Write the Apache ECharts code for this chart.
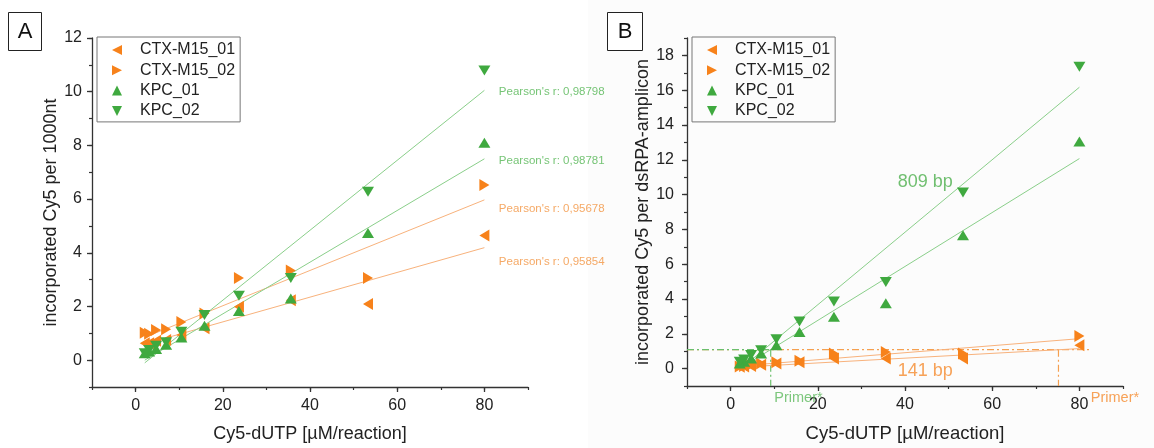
<!DOCTYPE html>
<html><head><meta charset="utf-8">
<script src="https://cdn.jsdelivr.net/npm/echarts@6.0.0/dist/echarts.min.js"></script>
<style>html,body{margin:0;padding:0;background:#fff}#c{width:1154px;height:448px}</style>
</head><body><div id="c"></div>
<script>
// ---- data ----
var doses = [80, 53.3, 35.6, 23.7, 15.8, 10.5, 7.0, 4.7, 3.1, 2.1];
var seriesNames = ['CTX-M15_01', 'CTX-M15_02', 'KPC_01', 'KPC_02'];
// Panel A: incorporated Cy5 per 1000nt
var ctx01A = [4.64, 2.09, 2.23, 1.99, 1.19, 0.94, 0.75, 0.72, 0.63, 0.63];
var ctx02A = [6.52, 3.06, 3.34, 3.06, 1.74, 1.42, 1.15, 1.12, 0.98, 1.02];
var kpc01A = [8.10, 4.74, 2.30, 1.83, 1.28, 0.84, 0.57, 0.42, 0.32, 0.26];
var kpc02A = [10.79, 6.27, 3.06, 2.40, 1.68, 1.06, 0.67, 0.54, 0.38, 0.26];
// Panel B: incorporated Cy5 per dsRPA-amplicon
var ctx01B = [1.34, 0.58, 0.58, 0.58, 0.36, 0.30, 0.22, 0.15, 0.12, 0.10];
var ctx02B = [1.87, 0.87, 0.96, 0.87, 0.45, 0.36, 0.30, 0.20, 0.15, 0.12];
var kpc01B = [13.05, 7.67, 3.76, 2.98, 2.10, 1.34, 0.87, 0.58, 0.40, 0.30];
var kpc02B = [17.35, 10.12, 4.97, 3.85, 2.70, 1.68, 1.06, 0.78, 0.53, 0.40];
// linear fit lines (end points)
var fitCtx01A = [[2.1, 0.60], [80, 4.19]];
var fitCtx02A = [[2.1, 0.85], [80, 5.97]];
var fitKpc01A = [[2.1, 0.00], [80, 7.50]];
var fitKpc02A = [[2.1, -0.10], [80, 10.05]];
var fitCtx01B = [[2.1, 0.08], [80, 1.15]];
var fitCtx02B = [[2.1, 0.15], [80, 1.72]];
var fitKpc01B = [[3.1, 0.15], [80, 12.07]];
var fitKpc02B = [[3.1, 0.15], [80, 16.17]];
// primer threshold guides in panel B
var primerLevel = 1.09;
var primerGreenX = 9.2;
var primerOrangeX = 75.2;
var pearsonTexts = ["Pearson's r: 0,98798", "Pearson's r: 0,98781", "Pearson's r: 0,95678", "Pearson's r: 0,95854"];
// tick labels
var xTicks = [0, 20, 40, 60, 80];
var yTicksA = [0, 2, 4, 6, 8, 10, 12];
var yTicksB = [0, 2, 4, 6, 8, 10, 12, 14, 16, 18];

// ---- chart ----
var FONT = "'Liberation Sans', Arial, sans-serif";
var ORANGE = '#F7821B', GREEN = '#3FA93F';
var ORANGE_FIT = '#F8B27C', GREEN_FIT = '#8ACF8A';
var ORANGE_TXT = '#F39440', GREEN_TXT = '#52B552';
var AX = '#333', TXT = '#222';

function pts(ys) { return doses.map(function (x, i) { return [x, ys[i]]; }); }

function mainX(grid, name, nameSize) {
  return {
    type: 'value', gridIndex: grid, min: -10, max: 90, position: 'bottom',
    name: name, nameLocation: 'middle', nameGap: 38,
    nameTextStyle: { fontSize: nameSize, color: TXT, fontFamily: FONT },
    axisLine: { show: true, onZero: false, lineStyle: { color: AX, width: 1.3 } },
    axisTick: { show: true, length: 5, customValues: xTicks, lineStyle: { color: AX, width: 1.3 } },
    axisLabel: { show: true, customValues: xTicks, fontSize: 16, color: TXT, margin: 11, fontFamily: FONT },
    splitLine: { show: false }
  };
}
function minorX(grid) {
  return {
    type: 'value', gridIndex: grid, min: -10, max: 90, interval: 10, position: 'bottom',
    axisLine: { show: false, onZero: false }, axisLabel: { show: false },
    axisTick: { show: true, length: 3, lineStyle: { color: AX, width: 1.2 } },
    splitLine: { show: false }
  };
}
function mainY(grid, max, ticks, name, gap, nameSize, margin) {
  return {
    type: 'value', gridIndex: grid, min: -1, max: max, position: 'left',
    name: name, nameLocation: 'middle', nameGap: gap,
    nameTextStyle: { fontSize: nameSize, color: TXT, fontFamily: FONT },
    axisLine: { show: true, onZero: false, lineStyle: { color: AX, width: 1.3 } },
    axisTick: { show: true, length: 5, customValues: ticks, lineStyle: { color: AX, width: 1.3 } },
    axisLabel: { show: true, customValues: ticks, fontSize: 16, color: TXT, margin: margin, fontFamily: FONT },
    splitLine: { show: false }
  };
}
function minorY(grid, max) {
  return {
    type: 'value', gridIndex: grid, min: -1, max: max, interval: 1, position: 'left',
    axisLine: { show: false, onZero: false }, axisLabel: { show: false },
    axisTick: { show: true, length: 3, lineStyle: { color: AX, width: 1.2 } },
    splitLine: { show: false }
  };
}

var markerStyle = {
  'CTX-M15_01': { color: ORANGE, rot: 90, icon: 'path://M0,5L10,0L10,10Z' },
  'CTX-M15_02': { color: ORANGE, rot: -90, icon: 'path://M0,0L10,5L0,10Z' },
  'KPC_01': { color: GREEN, rot: 0, icon: 'path://M5,0L10,10L0,10Z' },
  'KPC_02': { color: GREEN, rot: 180, icon: 'path://M0,0L10,0L5,10Z' }
};
function scatter(name, ys, xi, yi) {
  var m = markerStyle[name];
  return {
    type: 'scatter', name: name, xAxisIndex: xi, yAxisIndex: yi, data: pts(ys),
    symbol: 'triangle', symbolSize: [12, 10], symbolRotate: m.rot,
    itemStyle: { color: m.color, opacity: 1 }, z: 5, silent: true
  };
}
function fitLine(d, color, xi, yi) {
  return {
    type: 'line', data: d, xAxisIndex: xi, yAxisIndex: yi, symbol: 'none', silent: true,
    lineStyle: { color: color, width: 1 }, z: 3
  };
}
function guide(d, color, xi, yi) {
  return {
    type: 'line', data: d, xAxisIndex: xi, yAxisIndex: yi, symbol: 'none', silent: true,
    lineStyle: { color: color, width: 1.2, type: [7, 3, 2, 3] }, z: 2
  };
}
function annot(items, xi, yi) {
  return {
    type: 'scatter', xAxisIndex: xi, yAxisIndex: yi, silent: true, clip: false,
    symbolSize: 1, itemStyle: { color: 'rgba(0,0,0,0)' }, z: 6,
    data: items.map(function (it) {
      return {
        value: it.pos,
        label: { show: true, position: 'right', distance: 0, formatter: it.text,
                 color: it.color, fontSize: it.size, fontFamily: FONT }
      };
    })
  };
}
function legend(left) {
  return {
    orient: 'vertical', left: left, top: 37, selectedMode: false,
    data: seriesNames.map(function (n) { return { name: n, icon: markerStyle[n].icon }; }),
    itemWidth: 10, itemHeight: 10, itemGap: 4.3,
    padding: [5, 5, 3, 15], borderColor: '#777', borderWidth: 1,
    textStyle: { fontSize: 16, color: TXT, fontFamily: FONT, padding: [0, 0, 0, 13] }
  };
}

var option = {
  backgroundColor: '#fff',
  animation: false,
  grid: [
    { left: 92, top: 38, width: 436, height: 351 },
    { left: 687, top: 38, width: 436, height: 351 }
  ],
  xAxis: [mainX(0, 'Cy5-dUTP [µM/reaction]', 18), minorX(0), mainX(1, 'Cy5-dUTP [µM/reaction]', 18.5), minorX(1)],
  yAxis: [
    mainY(0, 12, yTicksA, 'incorporated Cy5 per 1000nt', 32, 18, 10), minorY(0, 12),
    mainY(1, 19, yTicksB, 'incorporated Cy5 per dsRPA-amplicon', 31, 18, 13), minorY(1, 19)
  ],
  legend: [legend(97), legend(692)],
  graphic: [
    { type: 'rect', shape: { x: 588, y: 0, width: 566, height: 448 }, style: { fill: '#fcfcfc' }, z: -10 },
    { type: 'rect', shape: { x: 8.5, y: 12.5, width: 33, height: 38 }, style: { fill: '#fff', stroke: '#222', lineWidth: 1 } },
    { type: 'text', x: 25, y: 31.5, style: { text: 'A', fontSize: 22, fill: '#111', fontFamily: FONT, align: 'center', verticalAlign: 'middle' } },
    { type: 'rect', shape: { x: 607.5, y: 12.5, width: 35, height: 38 }, style: { fill: '#fff', stroke: '#222', lineWidth: 1 } },
    { type: 'text', x: 625, y: 31.5, style: { text: 'B', fontSize: 22, fill: '#111', fontFamily: FONT, align: 'center', verticalAlign: 'middle' } }
  ],
  series: [
    fitLine(fitCtx01A, ORANGE_FIT, 0, 0), fitLine(fitCtx02A, ORANGE_FIT, 0, 0),
    fitLine(fitKpc01A, GREEN_FIT, 0, 0), fitLine(fitKpc02A, GREEN_FIT, 0, 0),
    scatter('CTX-M15_01', ctx01A, 0, 0), scatter('CTX-M15_02', ctx02A, 0, 0),
    scatter('KPC_01', kpc01A, 0, 0), scatter('KPC_02', kpc02A, 0, 0),
    annot([
      { pos: [83.2, 10.0], text: pearsonTexts[0], color: GREEN_TXT, size: 11.5 },
      { pos: [83.2, 7.41], text: pearsonTexts[1], color: GREEN_TXT, size: 11.5 },
      { pos: [83.2, 5.63], text: pearsonTexts[2], color: ORANGE_TXT, size: 11.5 },
      { pos: [83.2, 3.67], text: pearsonTexts[3], color: ORANGE_TXT, size: 11.5 }
    ], 0, 0),

    guide([[-10, primerLevel], [82.5, primerLevel]], '#F5A050', 2, 2),
    guide([[primerOrangeX, primerLevel], [primerOrangeX, -1]], '#F5A050', 2, 2),
    guide([[-10, primerLevel], [primerGreenX, primerLevel]], '#6CBF6C', 2, 2),
    guide([[primerGreenX, primerLevel], [primerGreenX, -1]], '#6CBF6C', 2, 2),
    fitLine(fitCtx01B, ORANGE_FIT, 2, 2), fitLine(fitCtx02B, ORANGE_FIT, 2, 2),
    fitLine(fitKpc01B, GREEN_FIT, 2, 2), fitLine(fitKpc02B, GREEN_FIT, 2, 2),
    scatter('CTX-M15_01', ctx01B, 2, 2), scatter('CTX-M15_02', ctx02B, 2, 2),
    scatter('KPC_01', kpc01B, 2, 2), scatter('KPC_02', kpc02B, 2, 2),
    annot([
      { pos: [38.2, 10.7], text: '809 bp', color: '#4CAF4C', size: 18 },
      { pos: [38.2, -0.15], text: '141 bp', color: '#F58B2E', size: 18 },
      { pos: [9.9, -1.7], text: 'Primer*', color: '#5DB95D', size: 14.5 },
      { pos: [82.5, -1.7], text: 'Primer*', color: '#F58B2E', size: 14.5 }
    ], 2, 2)
  ]
};
var chart = echarts.init(document.getElementById('c'));
chart.setOption(option);
</script>
</body></html>
